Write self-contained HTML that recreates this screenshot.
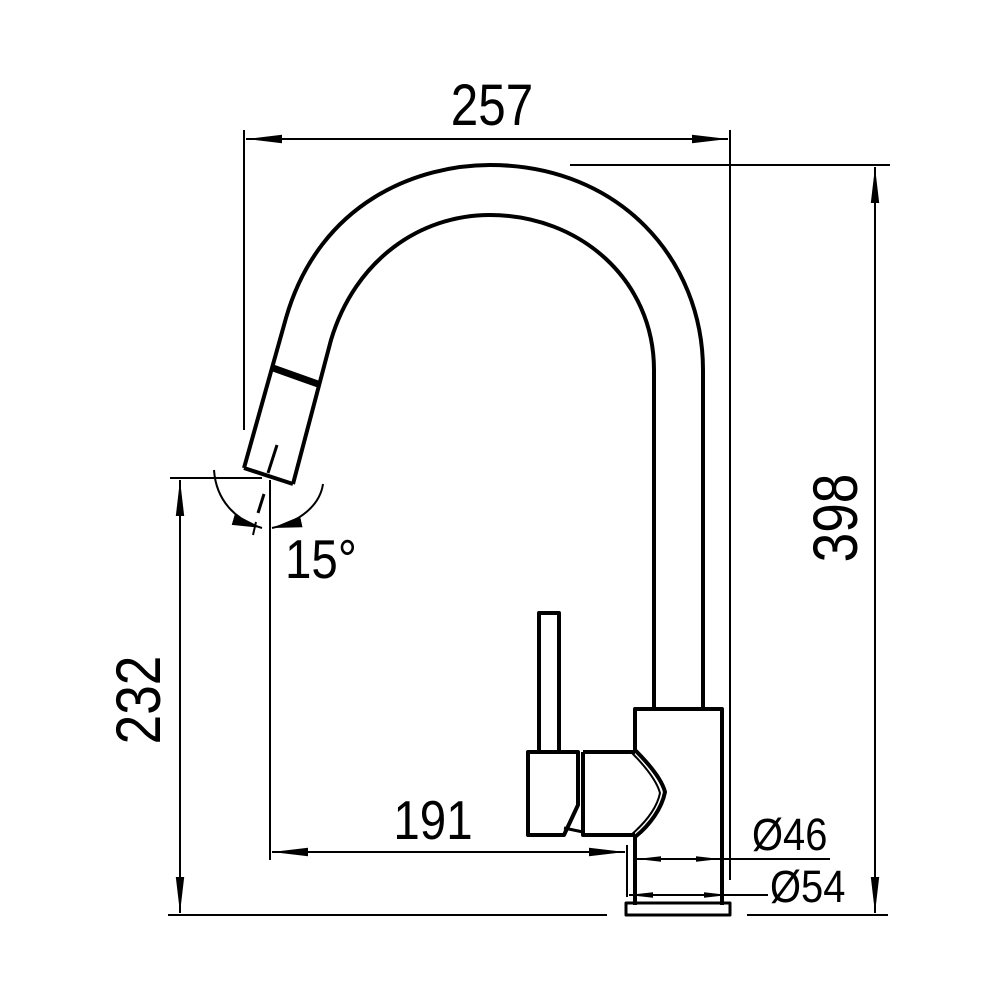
<!DOCTYPE html>
<html><head><style>
html,body{margin:0;padding:0;background:#fff;}
svg{display:block;}
text{font-family:"Liberation Sans",sans-serif;fill:#000;}
</style></head><body>
<svg width="1000" height="1000" viewBox="0 0 1000 1000" xmlns="http://www.w3.org/2000/svg">
<defs>
<marker id="a" viewBox="0 0 10 10" refX="10" refY="5" markerWidth="36" markerHeight="12" markerUnits="userSpaceOnUse" orient="auto-start-reverse" preserveAspectRatio="none"><path d="M0,1.5 L10,5 L0,8.5 Z" fill="#000"/></marker>
<marker id="s" viewBox="0 0 10 10" refX="10" refY="5" markerWidth="24" markerHeight="8" markerUnits="userSpaceOnUse" orient="auto-start-reverse" preserveAspectRatio="none"><path d="M0,1.5 L10,5 L0,8.5 Z" fill="#000"/></marker>
<marker id="b" viewBox="0 0 10 10" refX="10" refY="5" markerWidth="30" markerHeight="14" markerUnits="userSpaceOnUse" orient="auto" preserveAspectRatio="none"><path d="M0,1 L10,5 L0,9 Z" fill="#000"/></marker>
</defs>
<g fill="none" stroke="#000" stroke-width="4" stroke-linejoin="round">
<path d="M244,468 L286,318 C320,200 420,165 490,165 C620,165 703,260 703,370 L703,709"/>
<path d="M293,484 L331,340 C355,260 420,215 490,215 C580,215 654,280 654,370 L654,709"/>
<path d="M244,468 L293,484"/>
<path d="M273,368 L318,384" stroke-width="7"/>
<path d="M635,750 L635,709 L722,709 L722,905"/>
<path d="M635,837 L635,905"/>
<path d="M635,750 C650,765 662,780 665,792 C662,808 650,825 635,837"/>
<path d="M631,752 C646,767 657,782 660,793 C657,808 646,822 631,835" stroke-width="2"/>
<rect x="626" y="903" width="104" height="12" stroke-width="3"/>
<path d="M539,750 L539,613 L559,613 L559,752"/>
<path d="M528,752 L578,752 L578,805 L564,835 L528,835 Z"/>
<path d="M583,752 L635,752 M583,752 L583,835 L635,835"/>
<path d="M564,828 L583,832" stroke-width="3"/>
</g>
<g fill="none" stroke="#000" stroke-width="2">
<line x1="244" y1="130" x2="244" y2="430"/>
<line x1="730" y1="130" x2="730" y2="880"/>
<line x1="246" y1="139" x2="728" y2="139" marker-start="url(#a)" marker-end="url(#a)"/>
<line x1="570" y1="165" x2="890" y2="165"/>
<line x1="875" y1="167" x2="875" y2="913" marker-start="url(#a)" marker-end="url(#a)"/>
<line x1="747" y1="915" x2="888" y2="915"/>
<line x1="168" y1="915" x2="607" y2="915"/>
<line x1="170" y1="478" x2="262" y2="478"/>
<line x1="180" y1="480" x2="180" y2="913" marker-start="url(#a)" marker-end="url(#a)"/>
<line x1="270" y1="480" x2="270" y2="860"/>
<line x1="627" y1="845" x2="627" y2="897"/>
<line x1="272" y1="852" x2="625" y2="852" marker-start="url(#a)" marker-end="url(#a)"/>
<line x1="637" y1="859" x2="720" y2="859" marker-start="url(#s)" marker-end="url(#s)"/>
<line x1="720" y1="859" x2="830" y2="859"/>
<line x1="629" y1="895" x2="728" y2="895" marker-start="url(#s)" marker-end="url(#s)"/>
<line x1="728" y1="895" x2="768" y2="895"/>
<path d="M214,470 C216,500 235,520 262,528" marker-end="url(#b)"/>
<path d="M323,484 C320,505 300,522 272,528" marker-end="url(#b)"/>
<line x1="277" y1="445" x2="268" y2="473" stroke-width="3"/>
<line x1="264" y1="494" x2="258" y2="513" stroke-width="3"/>
<line x1="256" y1="522" x2="253" y2="535"/>
</g>
<text transform="translate(492,125) scale(0.95,1.12)" font-size="52" text-anchor="middle">257</text>
<text transform="translate(433,839) scale(0.95,1.1)" font-size="50" text-anchor="middle">191</text>
<text transform="translate(285,578) scale(0.95,1.1)" font-size="50">15°</text>
<text transform="translate(752,850) scale(0.95,1.08)" font-size="42">Ø46</text>
<text transform="translate(770,902) scale(0.95,1.08)" font-size="42">Ø54</text>
<text transform="translate(857,518) rotate(-90) scale(0.95,1.12)" font-size="56" text-anchor="middle">398</text>
<text transform="translate(160,700) rotate(-90) scale(0.95,1.12)" font-size="56" text-anchor="middle">232</text>
</svg>
</body></html>
